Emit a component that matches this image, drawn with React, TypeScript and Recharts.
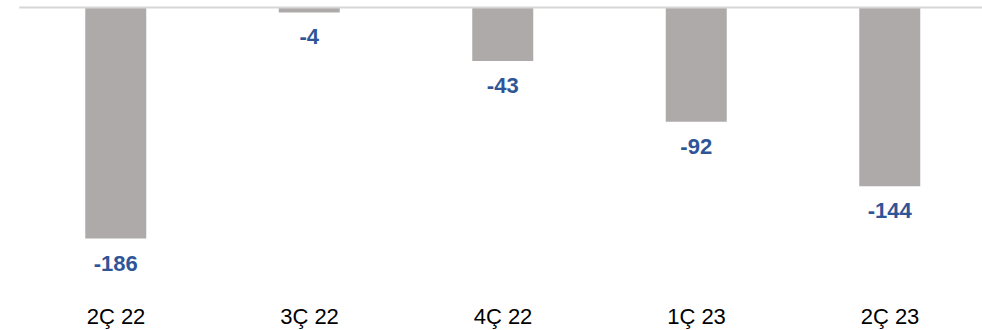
import React from "react";
import { BarChart, Bar, XAxis, YAxis, ReferenceLine, LabelList } from "recharts";

// Quarterly values (negative results), one bar per quarter
const quarters = ["2Ç 22", "3Ç 22", "4Ç 22", "1Ç 23", "2Ç 23"];
const values = [-186, -4, -43, -92, -144];
const valueDomain = [-200, 0];

const rows = quarters.map((q, i) => ({ quarter: q, value: values[i] }));

const FONT = "'Liberation Sans', Arial, Helvetica, sans-serif";
const BAR_COLOR = "#AEAAAA";
const LABEL_COLOR = "#2F5597";
const ZERO_LINE = "#D6D6D6";

// Value label placed just below the end of each (downward) bar
const ValueLabel = (props: any) => {
  const { x, y, width, height, value } = props;
  const bottom = Math.max(Number(y), Number(y) + Number(height));
  return (
    <text
      x={Number(x) + Number(width) / 2}
      y={bottom + 32}
      textAnchor="middle"
      fill={LABEL_COLOR}
      fontFamily={FONT}
      fontWeight="bold"
      fontSize={22}
    >
      {value}
    </text>
  );
};

export default function App() {
  return (
    <div style={{ position: "absolute", left: 0, top: 0, width: 982, height: 330, overflow: "hidden" }}>
      <BarChart
        width={1000}
        height={330}
        data={rows}
        margin={{ top: 7.5, right: 13.25, bottom: 0, left: 19.25 }}
      >
        <YAxis hide type="number" domain={valueDomain} allowDataOverflow />
        <XAxis
          dataKey="quarter"
          height={74.1}
          axisLine={false}
          tickLine={false}
          tickSize={6}
          tickMargin={46}
          tick={{ fill: "#000000", fontSize: 22, fontFamily: FONT }}
          interval={0}
        />
        <ReferenceLine y={0} stroke={ZERO_LINE} strokeWidth={2} ifOverflow="extendDomain" />
        <Bar dataKey="value" fill={BAR_COLOR} barSize={61} isAnimationActive={false}>
          <LabelList dataKey="value" content={ValueLabel} />
        </Bar>
      </BarChart>
    </div>
  );
}
